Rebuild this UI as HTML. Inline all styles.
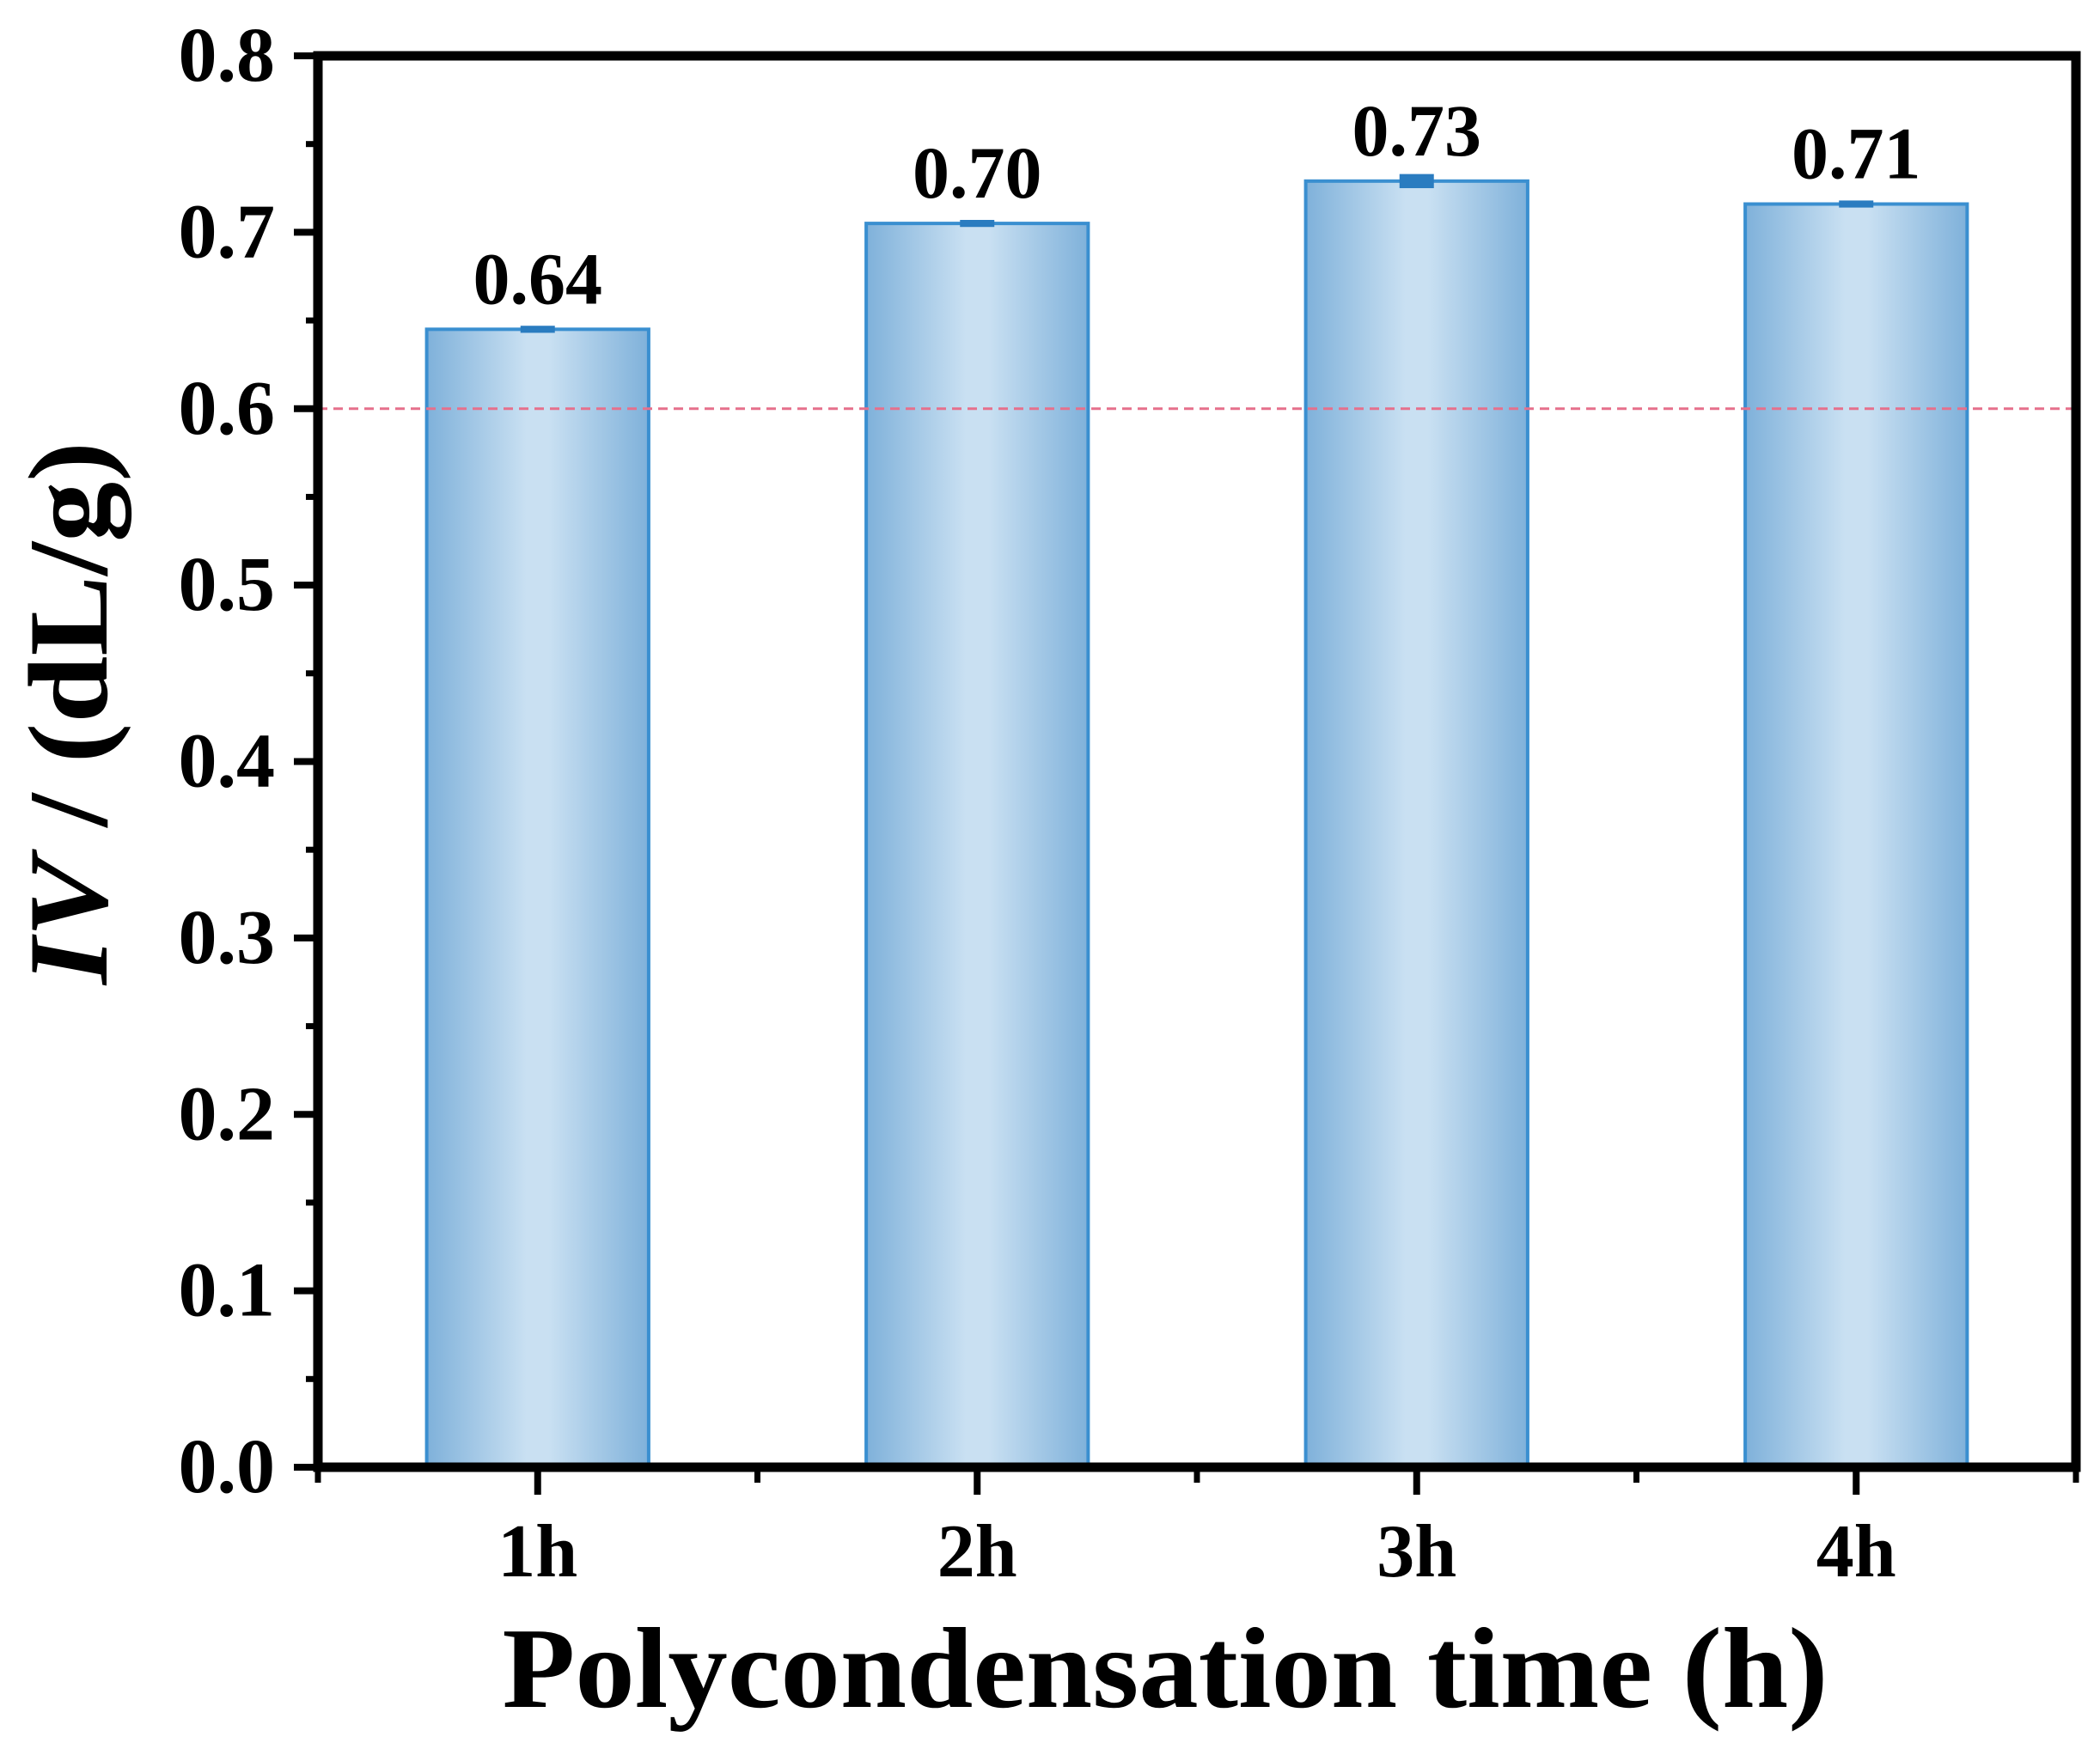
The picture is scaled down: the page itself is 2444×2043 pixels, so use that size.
<!DOCTYPE html>
<html><head><meta charset="utf-8"><style>
html,body{margin:0;padding:0;background:#fff;}
svg{display:block;font-family:"Liberation Serif",serif;font-weight:bold;}
</style></head><body>
<svg id="chart" width="2444" height="2043" viewBox="0 0 2444 2043" xmlns="http://www.w3.org/2000/svg">
<defs>
<linearGradient id="barGrad" x1="0" x2="1" y1="0" y2="0">
<stop offset="0" stop-color="#7fb1da"/>
<stop offset="0.45" stop-color="#c9e0f2"/>
<stop offset="0.55" stop-color="#c9e0f2"/>
<stop offset="1" stop-color="#7fb1da"/>
</linearGradient>
</defs>
<g id="plot"></g>
</svg>
<script>
const categories = ["1h","2h","3h","4h"];
const ivValues = [0.645, 0.705, 0.729, 0.716];
const valueLabels = ["0.64","0.70","0.73","0.71"];
const errValues = [0.002, 0.002, 0.004, 0.002];
const yTicks = [0.0,0.1,0.2,0.3,0.4,0.5,0.6,0.7,0.8];
const yTickLabels = ["0.0","0.1","0.2","0.3","0.4","0.5","0.6","0.7","0.8"];
const refLine = 0.6;

const L=370,R=2416,T=65,B=1708;
const NS="http://www.w3.org/2000/svg";
const g=document.getElementById('plot');
function y(v){return B-(v/0.8)*(B-T);}
function x(i){return L+(i+0.5)/4*(R-L);}
function el(tag,attrs,text){const e=document.createElementNS(NS,tag);for(const k in attrs)e.setAttribute(k,attrs[k]);if(text!==undefined)e.textContent=text;g.appendChild(e);return e;}

const bw=0.505*(R-L)/4;
categories.forEach((c,i)=>{
  const cx=x(i),top=y(ivValues[i]);
  const b=el('rect',{x:cx-bw/2,y:top,width:bw,height:B-top,fill:'url(#barGrad)',stroke:'#3a8fd0','stroke-width':4});
  
  
  const e=el('rect',{x:cx-20,y:y(ivValues[i]+errValues[i]),width:40,height:Math.max(4,y(ivValues[i]-errValues[i])-y(ivValues[i]+errValues[i])),fill:'#2a7cc0'});
  
  
  const t=el('text',{x:cx,y:top-30,'text-anchor':'middle','font-size':86,fill:'#000'},valueLabels[i]);
  
  
  const tk=el('line',{x1:cx,x2:cx,y1:B,y2:B+32,stroke:'#000','stroke-width':8});
  
  
  const tl=el('text',{x:cx,y:1835,'text-anchor':'middle','font-size':88,fill:'#000'},c);
  
  
});
for(let i=0;i<=4;i++){
  const mx=L+i/4*(R-L);
  const m=el('line',{x1:mx,x2:mx,y1:B,y2:B+18,stroke:'#000','stroke-width':7});
  
  
}
const dl=el('line',{x1:L,x2:R,y1:y(refLine),y2:y(refLine),stroke:'#e6708c','stroke-width':3,'stroke-dasharray':'11 7'});



yTicks.forEach((v,i)=>{
  const t=el('line',{x1:L-28,x2:L,y1:y(v),y2:y(v),stroke:'#000','stroke-width':8});
  
  
  if(i<yTicks.length-1){
    const m=el('line',{x1:L-14,x2:L,y1:y(v+0.05),y2:y(v+0.05),stroke:'#000','stroke-width':7});
    
    
  }
  const l=el('text',{x:320,y:y(v)+29,'text-anchor':'end','font-size':90,fill:'#000'},yTickLabels[i]);
  
  
});
const frame=el('rect',{x:L,y:T,width:R-L,height:B-T,fill:'none',stroke:'#000','stroke-width':11});



const xt=el('text',{x:1356,y:1987,'text-anchor':'middle','font-size':134,fill:'#000',textLength:1543,lengthAdjust:'spacingAndGlyphs'},'Polycondensation time (h)');



const yt=document.createElementNS(NS,'text');
yt.setAttribute('transform','translate(124,830) rotate(-90)');
yt.setAttribute('text-anchor','middle');
yt.setAttribute('font-size','132');
yt.setAttribute('textLength','632');
yt.setAttribute('lengthAdjust','spacingAndGlyphs');


const ts=document.createElementNS(NS,'tspan');ts.setAttribute('font-style','italic');ts.textContent='IV';
yt.appendChild(ts);
yt.appendChild(document.createTextNode(' / (dL/g)'));
g.appendChild(yt);
</script>
</body></html>
